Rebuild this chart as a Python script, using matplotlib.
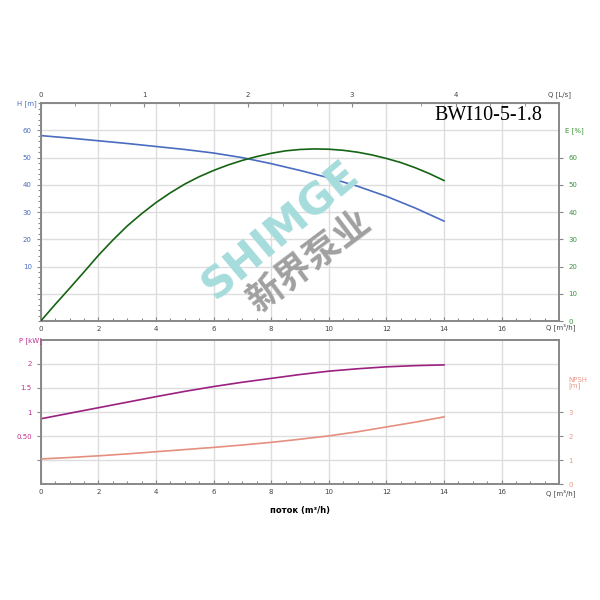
import matplotlib
matplotlib.use("Agg")
import matplotlib.pyplot as plt
from matplotlib.ticker import MultipleLocator, FixedLocator

plt.rcParams['font.family'] = ['DejaVu Sans']

# ---- data ----
q_h = [0, 1, 2, 3, 4, 5, 6, 7, 8, 9, 10, 11, 12, 13, 14]
head = [58.1, 57.2, 56.2, 55.2, 54.1, 53.0, 51.7, 50.0, 47.8, 45.3, 42.6, 39.5, 35.8, 31.5, 26.7]
q_e = [0, 0.5, 1, 1.5, 2, 2.5, 3, 3.5, 4, 4.5, 5, 5.5, 6, 6.5, 7, 7.5, 8, 8.5, 9, 9.5,
       10, 10.5, 11, 11.5, 12, 12.5, 13, 13.5, 14]
eff = [0, 6.1, 12.0, 18.0, 24.1, 29.7, 34.9, 39.4, 43.5, 47.1, 50.3, 53.0, 55.3, 57.3, 59.0,
       60.4, 61.6, 62.5, 63.0, 63.2, 63.1, 62.7, 62.0, 61.0, 59.7, 58.2, 56.3, 54.1, 51.6]
q_p = [0, 1, 2, 3, 4, 5, 6, 7, 8, 9, 10, 11, 12, 13, 14]
power = [0.86, 0.975, 1.09, 1.205, 1.32, 1.43, 1.53, 1.62, 1.70, 1.78, 1.85, 1.90, 1.94, 1.965, 1.98]
npsh = [1.05, 1.11, 1.18, 1.26, 1.35, 1.44, 1.53, 1.63, 1.74, 1.87, 2.01, 2.18, 2.38, 2.58, 2.80]

q_ticks = [0, 2, 4, 6, 8, 10, 12, 14, 16]
ls_ticks = [0, 1, 2, 3, 4]
h_ticks = [10, 20, 30, 40, 50, 60]
e_ticks = [0, 10, 20, 30, 40, 50, 60]
p_ticks = [0.5, 1, 1.5, 2]
p_labels = ["0.50", "1", "1.5", "2"]
npsh_ticks = [0, 1, 2, 3]
title = "BWI10-5-1.8"

c_h = '#4a6cc0'
c_e = '#146414'
c_p = '#9b2080'
c_n = '#e58f7f'
c_spine = '#888888'
c_grid = '#dddddd'

fig = plt.figure(figsize=(6, 6), dpi=100)

def style(ax):
    for s in ax.spines.values():
        s.set_color(c_spine)
        s.set_linewidth(1.2)
    ax.tick_params(which='both', colors=c_spine, labelsize=5, length=3, width=0.8)
    ax.tick_params(which='minor', length=2)

# ---- top axes ----
ax1 = fig.add_axes([0.068, 0.465, 0.864, 0.363])
ax1.set_xlim(0, 18)
ax1.set_ylim(-10, 70)
ax1.set_xticks(q_ticks)
ax1.xaxis.set_minor_locator(MultipleLocator(0.5))
ax1.set_yticks([0] + h_ticks)
ax1.set_yticklabels([""] + [str(t) for t in h_ticks])
ax1.yaxis.set_minor_locator(MultipleLocator(2))
ax1.grid(True, which='major', color=c_grid, lw=1)
ax1.set_axisbelow(True)
style(ax1)
ax1.tick_params(axis='y', labelcolor=c_h)
ax1.tick_params(axis='x', labelcolor='#444444')
ax1.tick_params(axis='x', which='both', direction='in')
ax1.plot(q_h, head, color=c_h, lw=1.2, zorder=3)

ax1e = ax1.twinx()
ax1e.set_ylim(0, 80)
ax1e.set_yticks(e_ticks)
style(ax1e)
ax1e.tick_params(axis='y', labelcolor='#3a953a')
ax1e.plot(q_e, eff, color=c_e, lw=1.2, zorder=3)

sec = ax1.secondary_xaxis('top', functions=(lambda x: x / 3.6, lambda x: x * 3.6))
sec.set_xticks(ls_ticks)
sec.xaxis.set_minor_locator(MultipleLocator(1 / 3))
sec.tick_params(which='both', colors=c_spine, labelsize=5, labelcolor='#444444', direction='in', length=3)
sec.tick_params(which='minor', length=2)
sec.spines['top'].set_color(c_spine)

ax1.text(0.967, 0.985, title, transform=ax1.transAxes, ha='right', va='top',
         fontsize=14.5, family='Liberation Serif', color='black', zorder=5)

fig.text(27 / 600, 1 - 104 / 600, "H [m]", fontsize=5, color=c_h, ha='center', va='center')
fig.text(560 / 600, 1 - 95 / 600, "Q [L/s]", fontsize=5, color='#444444', ha='center', va='center')
fig.text(574 / 600, 1 - 131 / 600, "E [%]", fontsize=5, color='#3a953a', ha='center', va='center')
fig.text(561 / 600, 1 - 327 / 600, "Q [m³/h]", fontsize=5, color='#444444', ha='center', va='center')

# ---- bottom axes ----
ax2 = fig.add_axes([0.068, 0.193, 0.864, 0.2405])
ax2.set_xlim(0, 18)
ax2.set_ylim(-0.5, 2.5)
ax2.set_xticks(q_ticks)
ax2.xaxis.set_minor_locator(MultipleLocator(0.5))
ax2.yaxis.set_major_locator(FixedLocator([0] + p_ticks))
ax2.set_yticklabels([""] + p_labels)
ax2.grid(True, which='major', color=c_grid, lw=1)
ax2.set_axisbelow(True)
style(ax2)
ax2.tick_params(axis='y', labelcolor='#c03090')
ax2.tick_params(axis='x', labelcolor='#444444')
ax2.tick_params(axis='x', which='both', direction='in')
ax2.plot(q_p, power, color=c_p, lw=1.2, zorder=3)

ax2n = ax2.twinx()
ax2n.set_ylim(0, 6)
ax2n.set_yticks(npsh_ticks)
style(ax2n)
ax2n.tick_params(axis='y', labelcolor='#e89a8a')
ax2n.plot(q_p, npsh, color=c_n, lw=1.2, zorder=3)

ax2.set_xlabel("поток (m³/h)", fontsize=6, fontweight='bold', labelpad=8)

fig.text(30 / 600, 1 - 341 / 600, "P [kW]", fontsize=5, color='#c03090', ha='center', va='center')
fig.text(568 / 600, 1 - 383 / 600, "NPSH\n[m]", fontsize=5, color='#e89a8a', ha='left', va='center',
         linespacing=1.0)
fig.text(561 / 600, 1 - 493 / 600, "Q [m³/h]", fontsize=5, color='#444444', ha='center', va='center')

# ---- watermark ----
fig.text(281 / 600, 1 - 230 / 600, "SHIMGE", fontsize=31, fontweight='heavy', color='#a6dcdc',
         rotation=40, ha='center', va='center', rotation_mode='anchor', zorder=10)
fig.text(309 / 600, 1 - 262 / 600, "新界泵业", fontsize=26, fontweight='bold', color='#a0a0a0',
         family=['Noto Sans CJK SC', 'DejaVu Sans'],
         rotation=37, ha='center', va='center', rotation_mode='anchor', zorder=10)

fig.savefig("out.png", dpi=100)
